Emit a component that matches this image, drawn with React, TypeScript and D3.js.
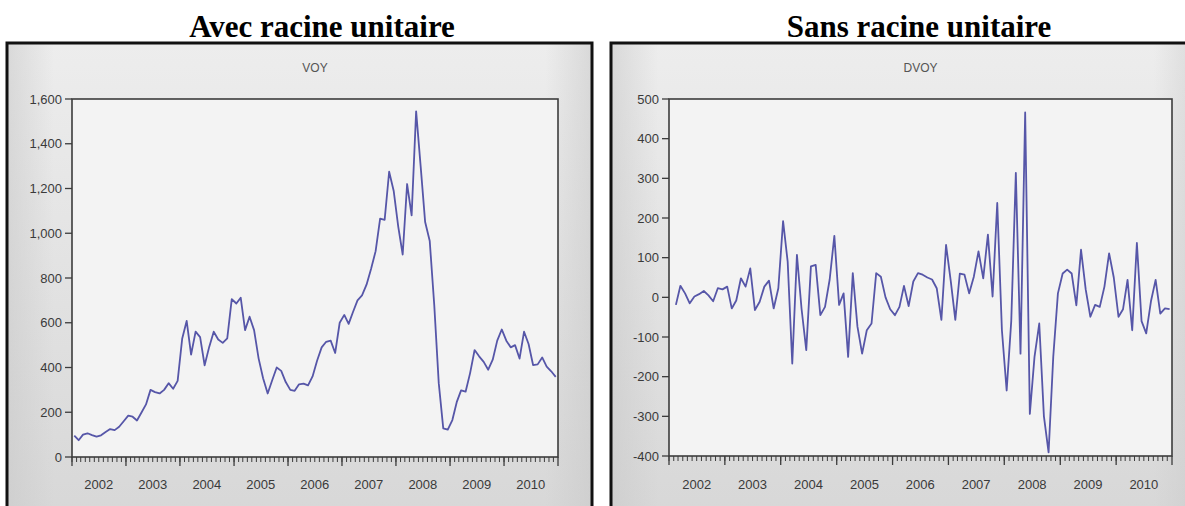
import React from 'react';
import * as d3 from 'd3';

// VOY monthly, 2002M01 .. 2010M12
const voyValues: number[] = [
  95, 75, 100, 106, 98, 91, 97, 112, 125, 120, 135, 160,
  185, 180, 163, 199, 235, 300, 290, 284, 300, 330, 305, 340,
  530, 608, 458, 560, 536, 410, 491, 560, 525, 510, 530, 706,
  686, 712, 567, 627, 567, 441, 352, 284, 343, 400, 385, 335,
  300, 296, 325, 328, 320, 360, 430, 490, 515, 520, 465, 600,
  635, 595, 648, 700, 722, 770, 840, 920, 1065, 1060, 1275, 1190,
  1030, 905, 1220, 1080, 1545, 1300, 1050, 965, 680, 330, 128, 122,
  165, 245, 298, 292, 375, 478, 450, 425, 390, 435, 520, 570,
  520, 490, 500, 440, 560, 505, 411, 414, 445, 404, 383, 358,
];

// DVOY monthly, 2002M02 .. 2010M12
const dvoyValues: number[] = [
  -19, 29, 10, -15, 2, 8, 16, 5, -10, 23, 20,
  27, -28, -8, 48, 27, 73, -32, -11, 27, 42, -28, 23,
  192, 90, -167, 107, -30, -133, 78, 82, -45, -24, 45, 155,
  -19, 10, -150, 61, -74, -142, -83, -66, 61, 52, 0, -30,
  -45, -24, 29, -22, 40, 61, 57, 50, 45, 23, -57, 132,
  40, -57, 60, 57, 10, 52, 116, 48, 158, 2, 238, -83,
  -235, -60, 314, -142, 466, -294, -150, -66, -300, -391, -150, 10,
  60, 70, 60, -20, 120, 20, -49, -19, -24, 27, 111, 50,
  -49, -30, 44, -83, 137, -60, -91, -10, 44, -41, -28, -30,
];

const yearLabels: string[] = ['2002', '2003', '2004', '2005', '2006', '2007', '2008', '2009', '2010'];
const voyTicks: number[] = [0, 200, 400, 600, 800, 1000, 1200, 1400, 1600];
const dvoyTicks: number[] = [-400, -300, -200, -100, 0, 100, 200, 300, 400, 500];

const LINE = '#5656a8';
const TXT = '#3a3a3a';
const SANS = 'Liberation Sans, Arial, sans-serif';

type PanelProps = {
  id: string;
  frameX: number;
  frameW: number;
  title: string;
  titleX: number;
  series: string;
  values: number[];
  startMonth: number;
  yDomain: [number, number];
  ticks: number[];
  plot: { x0: number; x1: number; y0: number; y1: number };
  fmt: (n: number) => string;
};

function Panel(p: PanelProps) {
  const { plot } = p;
  const t0 = new Date(2002, 0, 1);
  const t1 = new Date(2011, 0, 1);
  const x = d3.scaleTime().domain([t0, t1]).range([plot.x0, plot.x1]);
  const y = d3.scaleLinear().domain(p.yDomain).range([plot.y1, plot.y0]);
  const pts = p.values.map((v, i) => {
    const m = p.startMonth + i;
    const a = new Date(2002, m, 1).getTime();
    const b = new Date(2002, m + 1, 1).getTime();
    return { d: new Date((a + b) / 2), v };
  });
  const line = d3
    .line<{ d: Date; v: number }>()
    .x((d) => x(d.d))
    .y((d) => y(d.v));
  const monthTicks = d3.timeMonth.range(t0, t1);
  const yearTicks = d3.timeYear.range(t0, d3.timeDay.offset(t1, 1));
  const cx = (plot.x0 + plot.x1) / 2;
  return (
    <g>
      <defs>
        <linearGradient id={p.id + 'bg'} x1="0" y1="0" x2="0" y2="1">
          <stop offset="0" stopColor="#ededed" />
          <stop offset="1" stopColor="#d7d7d7" />
        </linearGradient>
        <linearGradient id={p.id + 'side'} x1="0" y1="0" x2="1" y2="0">
          <stop offset="0" stopColor="#c8c8c8" stopOpacity="0.55" />
          <stop offset="0.08" stopColor="#c8c8c8" stopOpacity="0" />
          <stop offset="0.92" stopColor="#c8c8c8" stopOpacity="0" />
          <stop offset="1" stopColor="#c8c8c8" stopOpacity="0.55" />
        </linearGradient>
      </defs>
      <text
        x={p.titleX}
        y={37}
        textAnchor="middle"
        fontFamily="Liberation Serif, Times New Roman, serif"
        fontWeight="bold"
        fontSize={31}
        fill="#000"
      >
        {p.title}
      </text>
      <rect x={p.frameX} y={43} width={p.frameW} height={480} fill={`url(#${p.id}bg)`} />
      <rect x={p.frameX} y={43} width={p.frameW} height={480} fill={`url(#${p.id}side)`} />
      <rect
        x={p.frameX}
        y={43}
        width={p.frameW}
        height={480}
        fill="none"
        stroke="#111"
        strokeWidth={3}
      />
      <text x={cx} y={72} textAnchor="middle" fontFamily={SANS} fontSize={12} fill="#555">
        {p.series}
      </text>
      <rect
        x={plot.x0}
        y={plot.y0}
        width={plot.x1 - plot.x0}
        height={plot.y1 - plot.y0}
        fill="#f3f3f3"
      />
      <path d={line(pts) || ''} fill="none" stroke={LINE} strokeWidth={1.8} strokeLinejoin="round" />
      <rect
        x={plot.x0}
        y={plot.y0}
        width={plot.x1 - plot.x0}
        height={plot.y1 - plot.y0}
        fill="none"
        stroke="#3c3c3c"
        strokeWidth={1.6}
      />
      {p.ticks.map((t) => (
        <g key={'y' + t}>
          <line x1={plot.x0 - 7} x2={plot.x0} y1={y(t)} y2={y(t)} stroke="#3c3c3c" strokeWidth={1.3} />
          <text
            x={plot.x0 - 10}
            y={y(t)}
            dy="0.35em"
            textAnchor="end"
            fontFamily={SANS}
            fontSize={13}
            fill={TXT}
          >
            {p.fmt(t)}
          </text>
        </g>
      ))}
      {monthTicks.map((m, i) => (
        <line
          key={'m' + i}
          x1={x(m)}
          x2={x(m)}
          y1={plot.y1}
          y2={plot.y1 + 5}
          stroke="#3c3c3c"
          strokeWidth={1}
        />
      ))}
      {yearTicks.map((m, i) => (
        <line
          key={'yt' + i}
          x1={x(m)}
          x2={x(m)}
          y1={plot.y1}
          y2={plot.y1 + 9}
          stroke="#3c3c3c"
          strokeWidth={1.3}
        />
      ))}
      {yearLabels.map((lab) => (
        <text
          key={lab}
          x={x(new Date(+lab, 6, 1))}
          y={489}
          textAnchor="middle"
          fontFamily={SANS}
          fontSize={13}
          fill={TXT}
        >
          {lab}
        </text>
      ))}
    </g>
  );
}

export default function App() {
  const fmt = d3.format(',');
  return (
    <svg
      width={1185}
      height={506}
      style={{ position: 'absolute', left: 0, top: 0, background: '#fff' }}
    >
      <Panel
        id="l"
        frameX={7}
        frameW={585}
        title="Avec racine unitaire"
        titleX={322}
        series="VOY"
        values={voyValues}
        startMonth={0}
        yDomain={[0, 1600]}
        ticks={voyTicks}
        plot={{ x0: 72, x1: 558, y0: 99, y1: 457 }}
        fmt={fmt}
      />
      <Panel
        id="r"
        frameX={611}
        frameW={590}
        title="Sans racine unitaire"
        titleX={919}
        series="DVOY"
        values={dvoyValues}
        startMonth={1}
        yDomain={[-400, 500]}
        ticks={dvoyTicks}
        plot={{ x0: 669, x1: 1172, y0: 99, y1: 456 }}
        fmt={(n) => String(n)}
      />
    </svg>
  );
}
